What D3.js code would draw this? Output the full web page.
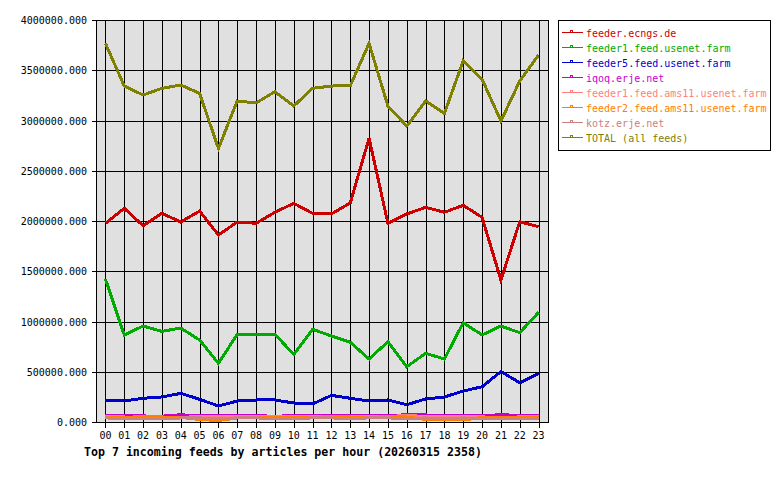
<!DOCTYPE html>
<html>
<head>
<meta charset="utf-8">
<script src="https://cdn.jsdelivr.net/npm/d3@7"></script>
<style>
  body { margin: 0; background: #fff; }
  text { font-family: "DejaVu Sans Mono", "Liberation Mono", monospace; }
</style>
</head>
<body>
<div id="chart"></div>
<script>
// hours on the x axis
var hours = ['00','01','02','03','04','05','06','07','08','09','10','11',
             '12','13','14','15','16','17','18','19','20','21','22','23']

var feedNames = ['feeder.ecngs.de', 'feeder1.feed.usenet.farm', 'feeder5.feed.usenet.farm',
                 'iqoq.erje.net', 'feeder1.feed.ams11.usenet.farm', 'feeder2.feed.ams11.usenet.farm',
                 'kotz.erje.net', 'TOTAL (all feeds)']
var feedColors = ['#cc0000', '#00aa00', '#0000cc', '#cc00cc', '#ff8080', '#ff8000', '#cc8080', '#808000']

var ecngs = [1977000, 2126000, 1953000, 2076000, 1990000, 2099000, 1861000, 1990000, 1977000, 2087000, 2176000, 2076000,
             2070000, 2180000, 2823000, 1977000, 2070000, 2136000, 2087000, 2156000, 2037000, 1413000, 1993000, 1943000]
var usenet1 = [1423000, 866000, 955000, 902000, 935000, 816000, 584000, 872000, 872000, 872000, 673000, 922000,
               856000, 793000, 627000, 799000, 550000, 683000, 627000, 988000, 866000, 955000, 889000, 1091000]
var usenet5 = [209000, 209000, 236000, 249000, 285000, 226000, 159000, 209000, 219000, 219000, 189000, 179000,
               265000, 236000, 209000, 219000, 172000, 229000, 249000, 308000, 351000, 501000, 391000, 484000]
var iqoq = [62000, 62000, 60000, 58000, 72000, 62000, 60000, 62000, 62000, 58000, 62000, 60000,
            68000, 66000, 62000, 64000, 72000, 70000, 64000, 62000, 64000, 72000, 66000, 62000]
var ams1 = [50000, 50000, 38000, 38000, 48000, 52000, 55000, 52000, 52000, 52000, 50000, 50000,
            55000, 50000, 52000, 55000, 65000, 55000, 50000, 52000, 50000, 48000, 50000, 50000]
var ams2 = [40000, 45000, 55000, 50000, 45000, 25000, 15000, 40000, 45000, 42000, 40000, 45000,
            55000, 50000, 45000, 55000, 50000, 25000, 20000, 20000, 45000, 40000, 40000, 45000]
var kotz = [40000, 38000, 35000, 35000, 40000, 40000, 38000, 40000, 40000, 38000, 38000, 40000,
            40000, 38000, 40000, 40000, 38000, 40000, 38000, 40000, 38000, 35000, 38000, 38000]
var total = [3768000, 3343000, 3254000, 3320000, 3353000, 3270000, 2723000, 3194000, 3174000, 3287000, 3144000, 3320000,
             3343000, 3345000, 3768000, 3144000, 2945000, 3194000, 3071000, 3595000, 3410000, 2995000, 3393000, 3652000]

var yTicks = [0, 500000, 1000000, 1500000, 2000000, 2500000, 3000000, 3500000, 4000000]
var title = 'Top 7 incoming feeds by articles per hour (20260315 2358)'

var series = [ecngs, usenet1, usenet5, iqoq, ams1, ams2, kotz, total]

// plot box (window.top is taken, so prefixed names)
var plotLeft = 96, plotRight = 548, plotTop = 20, plotBottom = 422

var svg = d3.select('#chart').append('svg')
    .attr('width', 780)
    .attr('height', 480)

var x = d3.scalePoint()
    .domain(hours)
    .range([plotLeft, plotRight])
    .padding(0.5)

var y = d3.scaleLinear()
    .domain([0, 4000000])
    .range([plotBottom, plotTop])

// plot background
svg.append('rect')
    .attr('x', plotLeft).attr('y', plotTop)
    .attr('width', plotRight - plotLeft).attr('height', plotBottom - plotTop)
    .attr('fill', '#e0e0e0')

// grid lines
svg.selectAll('line.vgrid')
    .data(hours)
    .enter().append('line')
    .attr('class', 'vgrid')
    .attr('x1', function (d) { return Math.round(x(d)) + 0.5 })
    .attr('x2', function (d) { return Math.round(x(d)) + 0.5 })
    .attr('y1', plotTop).attr('y2', plotBottom + 6)
    .attr('stroke', '#000')

svg.selectAll('line.hgrid')
    .data(yTicks)
    .enter().append('line')
    .attr('class', 'hgrid')
    .attr('x1', plotLeft - 4).attr('x2', plotRight)
    .attr('y1', function (d) { return Math.round(y(d)) + 0.5 })
    .attr('y2', function (d) { return Math.round(y(d)) + 0.5 })
    .attr('stroke', '#000')

// y labels
svg.selectAll('text.ylab')
    .data(yTicks)
    .enter().append('text')
    .attr('class', 'ylab')
    .attr('x', 87)
    .attr('y', function (d) { return y(d) + 4 })
    .attr('text-anchor', 'end')
    .attr('font-size', '10px')
    .text(d3.format('.3f'))

// x labels
svg.selectAll('text.xlab')
    .data(hours)
    .enter().append('text')
    .attr('class', 'xlab')
    .attr('x', function (d) { return x(d) })
    .attr('y', 439)
    .attr('text-anchor', 'middle')
    .attr('font-size', '10px')
    .text(function (d) { return d })

// the feed lines
var line = d3.line()
    .x(function (d, i) { return x(hours[i]) })
    .y(function (d) { return y(d) })

svg.selectAll('path.feed')
    .data(series)
    .enter().append('path')
    .attr('class', 'feed')
    .attr('d', line)
    .attr('fill', 'none')
    .attr('stroke', function (d, i) { return feedColors[i] })
    .attr('stroke-width', 3)
    .attr('shape-rendering', 'crispEdges')

// plot frame
svg.append('rect')
    .attr('x', plotLeft + 0.5).attr('y', plotTop + 0.5)
    .attr('width', plotRight - plotLeft).attr('height', plotBottom - plotTop)
    .attr('fill', 'none')
    .attr('stroke', '#000')

// title
svg.append('text')
    .attr('x', 84)
    .attr('y', 456)
    .attr('font-size', '11.6px')
    .attr('font-weight', 'bold')
    .text(title)

// legend
svg.append('rect')
    .attr('x', 558.5).attr('y', 20.5)
    .attr('width', 212).attr('height', 130)
    .attr('fill', '#fff')
    .attr('stroke', '#000')

var rows = svg.selectAll('g.leg')
    .data(feedNames)
    .enter().append('g')
    .attr('class', 'leg')
    .attr('transform', function (d, i) { return 'translate(0,' + (32 + i * 15) + ')' })

rows.append('line')
    .attr('x1', 562).attr('x2', 583)
    .attr('y1', 0.5).attr('y2', 0.5)
    .attr('stroke', function (d, i) { return feedColors[i] })

rows.append('rect')
    .attr('x', 570.5).attr('y', -1.5)
    .attr('width', 2).attr('height', 2)
    .attr('fill', 'none')
    .attr('stroke', function (d, i) { return feedColors[i] })

rows.append('text')
    .attr('x', 586)
    .attr('y', 4.5)
    .attr('font-size', '10px')
    .attr('fill', function (d, i) { return feedColors[i] })
    .text(function (d) { return d })
</script>
</body>
</html>
